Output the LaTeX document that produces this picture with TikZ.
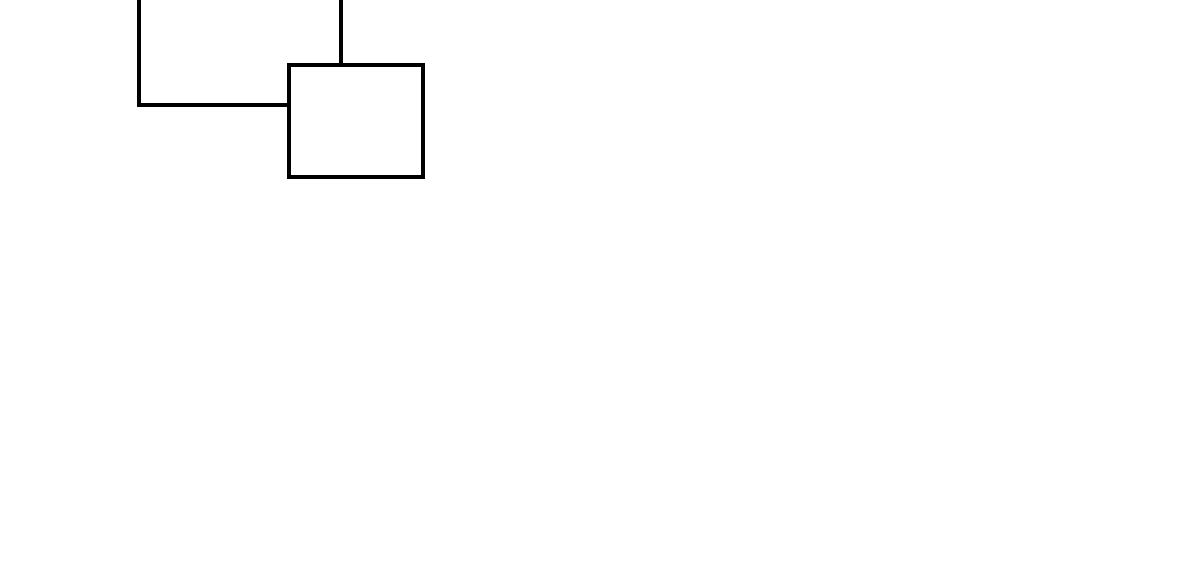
\documentclass[tikz,border=0pt]{standalone}
\begin{document}
\begin{tikzpicture}[x=0.5pt,y=-0.5pt,
  box/.style={draw=black,line width=2pt,minimum width=67pt,minimum height=56pt,inner sep=0pt,outer sep=0pt},
  wire/.style={draw=black,line width=2pt}]
\useasboundingbox (0,0) rectangle (1200,571);
\node[box] (b) at (356,121) {};
\coordinate (t1) at (341,0);
\coordinate (t2) at (139,0);
\coordinate (c) at (139,105);
\draw[wire] (t1) -- (t1 |- b.north);
\draw[wire] (t2) -- (c) -- (c -| b.west);
\end{tikzpicture}
\end{document}
